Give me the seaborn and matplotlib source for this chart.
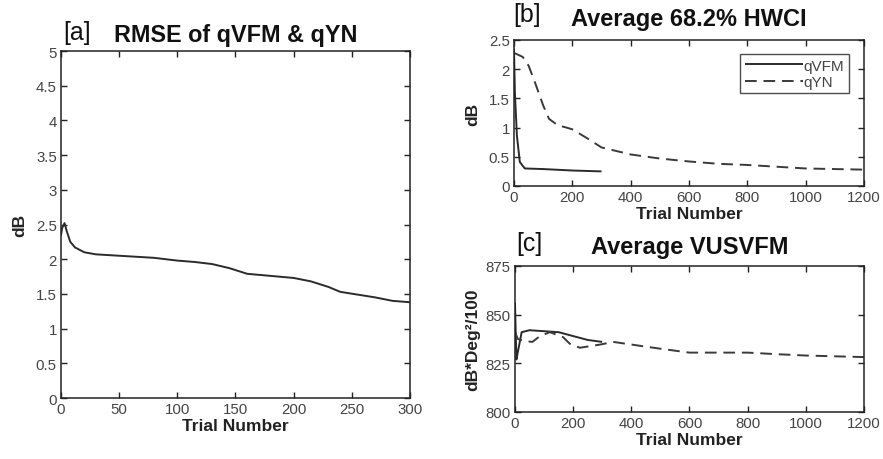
import numpy as np
import pandas as pd
import matplotlib
matplotlib.use("Agg")
import matplotlib.pyplot as plt
import seaborn as sns

sns.set_theme(style="ticks")
plt.rcParams['font.family'] = ['Liberation Sans', 'DejaVu Sans']

# [a] RMSE
rmse_trial = [0, 1, 3, 5, 8, 12, 20, 30, 50, 80, 100, 115, 130, 145, 160, 180, 200, 215, 230, 240, 255, 270, 285, 300]
rmse_db = [2.35, 2.45, 2.52, 2.4, 2.25, 2.17, 2.1, 2.07, 2.05, 2.02, 1.98, 1.96, 1.93, 1.87, 1.79, 1.76, 1.73, 1.68, 1.6, 1.53, 1.49, 1.45, 1.4, 1.38]

# [b] HWCI
hwci_vfm_trial = [0, 3, 10, 20, 37, 100, 200, 300]
hwci_vfm_db = [2.35, 1.6, 0.86, 0.41, 0.3, 0.29, 0.265, 0.25]
hwci_yn_trial = [0, 30, 50, 70, 100, 120, 150, 180, 200, 250, 300, 400, 500, 600, 700, 800, 900, 1000, 1100, 1200]
hwci_yn_db = [2.28, 2.21, 2.06, 1.8, 1.38, 1.15, 1.04, 1.0, 0.97, 0.82, 0.66, 0.54, 0.47, 0.42, 0.38, 0.36, 0.33, 0.30, 0.29, 0.28]

# [c] VUSVFM
vus_vfm_trial = [0, 5, 23, 50, 100, 150, 200, 250, 300]
vus_vfm_val = [856, 827, 841, 842, 841.5, 841, 839, 837, 836]
vus_yn_trial = [0, 10, 30, 60, 86, 120, 165, 189, 223, 292, 338, 430, 500, 600, 800, 900, 1000, 1200]
vus_yn_val = [841, 837.5, 836.5, 836, 839, 841, 838.5, 835, 833, 834.6, 836, 834, 832.5, 830.5, 830.5, 829.7, 829, 828.2]

line_col = '#2b2b2b'
tick_col = '#444444'

fig = plt.figure(figsize=(8.83, 4.6), dpi=100)
ax_a = fig.add_axes([0.0691, 0.1326, 0.3952, 0.7543])
ax_b = fig.add_axes([0.5821, 0.5935, 0.3964, 0.3174])
ax_c = fig.add_axes([0.5832, 0.1022, 0.3952, 0.3174])

df_a = pd.DataFrame({'trial': rmse_trial, 'db': rmse_db})
sns.lineplot(data=df_a, x='trial', y='db', ax=ax_a, color=line_col, lw=1.4)

df_b = pd.concat([
    pd.DataFrame({'trial': hwci_vfm_trial, 'db': hwci_vfm_db, 'method': 'qVFM'}),
    pd.DataFrame({'trial': hwci_yn_trial, 'db': hwci_yn_db, 'method': 'qYN'}),
])
sns.lineplot(data=df_b, x='trial', y='db', hue='method', style='method',
             palette=[line_col, '#3a3a3a'], dashes=[(1, 0), (6, 3.5)],
             ax=ax_b, lw=1.4)

df_c = pd.concat([
    pd.DataFrame({'trial': vus_vfm_trial, 'val': vus_vfm_val, 'method': 'qVFM'}),
    pd.DataFrame({'trial': vus_yn_trial, 'val': vus_yn_val, 'method': 'qYN'}),
])
sns.lineplot(data=df_c, x='trial', y='val', hue='method', style='method',
             palette=[line_col, '#3a3a3a'], dashes=[(1, 0), (6, 3.5)],
             ax=ax_c, lw=1.4, legend=False)

ax_a.set_xlim(0, 300)
ax_a.set_ylim(0, 5)
ax_a.set_xticks(range(0, 301, 50))
ax_a.set_yticks(np.arange(0, 5.01, 0.5))
ax_a.set_yticklabels(['0', '0.5', '1', '1.5', '2', '2.5', '3', '3.5', '4', '4.5', '5'])

ax_b.set_xlim(0, 1200)
ax_b.set_ylim(0, 2.5)
ax_b.set_xticks(range(0, 1201, 200))
ax_b.set_yticks(np.arange(0, 2.51, 0.5))
ax_b.set_yticklabels(['0', '0.5', '1', '1.5', '2', '2.5'])

ax_c.set_xlim(0, 1200)
ax_c.set_ylim(800, 875)
ax_c.set_xticks(range(0, 1201, 200))
ax_c.set_yticks([800, 825, 850, 875])

for ax in (ax_a, ax_b, ax_c):
    ax.tick_params(direction='in', top=True, right=True, length=4, width=1,
                   labelsize=10.8, labelcolor=tick_col, color='#222222', pad=3)
    for s in ax.spines.values():
        s.set_linewidth(1.1)
        s.set_color('#222222')
    ax.set_xlabel('Trial Number', fontsize=12.5, fontweight='bold', color='#222222', labelpad=1)

ax_a.set_ylabel('dB', fontsize=12.5, fontweight='bold', color='#222222', labelpad=6)
ax_b.set_ylabel('dB', fontsize=12.5, fontweight='bold', color='#222222', labelpad=6)
ax_c.set_ylabel('dB*Deg²/100', fontsize=12.5, fontweight='bold', color='#222222', labelpad=4)

ax_a.set_title('RMSE of qVFM & qYN', fontsize=16.8, fontweight='bold', color='#111111', pad=7)
ax_b.set_title('Average 68.2% HWCI', fontsize=17, fontweight='bold', color='#111111', pad=11)
ax_c.set_title('Average VUSVFM', fontsize=17, fontweight='bold', color='#111111', pad=9)

fig.text(63 / 883, 1 - 40 / 460, '[a]', fontsize=18, color='#111111')
fig.text(513 / 883, 1 - 22 / 460, '[b]', fontsize=18, color='#111111')
fig.text(516 / 883, 1 - 251 / 460, '[c]', fontsize=18, color='#111111')

leg = ax_b.legend(loc='upper right', bbox_to_anchor=(0.957, 0.904), borderaxespad=0,
                  fontsize=11, frameon=True, fancybox=False,
                  edgecolor='#222222', handlelength=3.8, handletextpad=0.05,
                  labelspacing=0.15, borderpad=0.3)
leg.get_frame().set_linewidth(1.0)
for t in leg.get_texts():
    t.set_color(tick_col)

fig.savefig('out.png', dpi=100, facecolor='white')
